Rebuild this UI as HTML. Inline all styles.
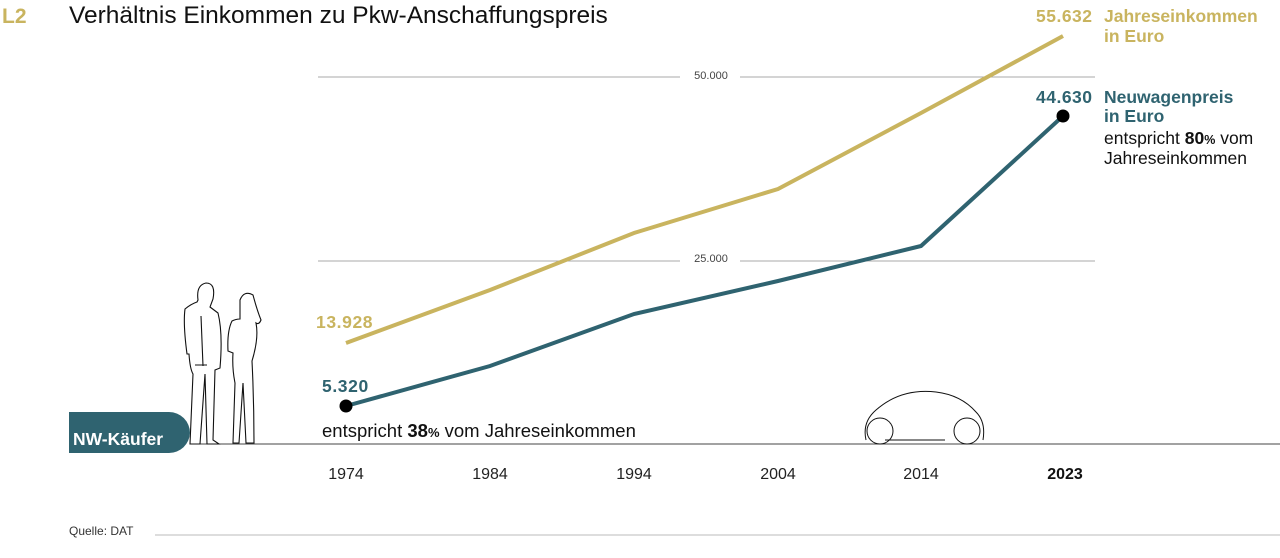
<!DOCTYPE html>
<html><head><meta charset="utf-8"><style>
body{margin:0;background:#fff;width:1280px;height:553px;overflow:hidden;font-family:"Liberation Sans",sans-serif}
svg text{font-family:"Liberation Sans",sans-serif}
</style></head><body>
<svg width="1280" height="553" viewBox="0 0 1280 553">
<text x="2" y="23" font-size="21" font-weight="bold" fill="#c9b45f">L2</text>
<text x="69" y="23" font-size="24.5" fill="#111">Verhältnis Einkommen zu Pkw-Anschaffungspreis</text>
<line x1="318" y1="77" x2="1095" y2="77" stroke="#aaa" stroke-width="1"/>
<line x1="318" y1="261" x2="1095" y2="261" stroke="#aaa" stroke-width="1"/>
<rect x="680" y="66" width="60" height="14" fill="#fff"/>
<rect x="680" y="250" width="60" height="14" fill="#fff"/>
<text x="711" y="79" font-size="11" fill="#444" text-anchor="middle">50.000</text>
<text x="711" y="262" font-size="11" fill="#444" text-anchor="middle">25.000</text>
<line x1="190" y1="444" x2="1280" y2="444" stroke="#444" stroke-width="1"/>
<polyline points="346,343 490,290 634,233 778,189 921,113 1063,36" fill="none" stroke="#c9b45f" stroke-width="4"/>
<polyline points="346,406 490,366 634,314 778,281 921,246 1063,116" fill="none" stroke="#2f6370" stroke-width="4"/>
<circle cx="346" cy="406" r="6.5" fill="#000"/>
<circle cx="1063" cy="116" r="6.5" fill="#000"/>
<text x="316" y="328" font-size="17.5" font-weight="bold" fill="#c9b45f" letter-spacing="0.6">13.928</text>
<text x="322" y="392" font-size="17.5" font-weight="bold" fill="#2f6370" letter-spacing="0.6">5.320</text>
<text x="322" y="437" font-size="18.5" fill="#111">entspricht <tspan font-weight="bold">38</tspan><tspan font-size="13" font-weight="bold">%</tspan> vom Jahreseinkommen</text>
<text x="1036" y="22" font-size="17.5" font-weight="bold" fill="#c9b45f" letter-spacing="0.5">55.632</text>
<text x="1104" y="22" font-size="17.5" font-weight="bold" fill="#c9b45f">Jahreseinkommen</text>
<text x="1104" y="42" font-size="17.5" font-weight="bold" fill="#c9b45f">in Euro</text>
<text x="1036" y="103" font-size="17.5" font-weight="bold" fill="#2f6370" letter-spacing="0.5">44.630</text>
<text x="1104" y="103" font-size="17.5" font-weight="bold" fill="#2f6370">Neuwagenpreis</text>
<text x="1104" y="122" font-size="17.5" font-weight="bold" fill="#2f6370">in Euro</text>
<text x="1104" y="144" font-size="17.5" fill="#111">entspricht <tspan font-weight="bold">80</tspan><tspan font-size="12.5" font-weight="bold">%</tspan> vom</text>
<text x="1104" y="164" font-size="17.5" fill="#111">Jahreseinkommen</text>
<g font-size="16" fill="#222" text-anchor="middle">
<text x="346" y="479">1974</text><text x="490" y="479">1984</text><text x="634" y="479">1994</text>
<text x="778" y="479">2004</text><text x="921" y="479">2014</text><text x="1065" y="479" font-weight="bold" fill="#111">2023</text></g>
<g fill="none" stroke="#111" stroke-width="1.1">
<path d="M198,300 q-2,-15 8,-17 q10,0 7,16 l-3,8 l8,6 q5,20 2,55 l-5,2 l-2,70 l6,4 h-12 l-2,-70 l-5,70 h-10 l3,-70 q-3,-5 -4,-20 l-2,0 q-4,-30 -2,-45 q6,-5 12,-7z"/>
<path d="M201,316 l2,50 M195,365 l12,0"/>
<path d="M240,300 q4,-10 13,-5 q4,15 8,25 q-2,5 -5,3 q3,15 -4,38 q2,40 2,82 h-8 l-3,-60 l-4,60 h-6 l2,-60 q-3,-15 -2,-30 l-5,-2 q-1,-20 4,-30 q4,-2 8,-2z"/>
</g>
<g fill="none" stroke="#111" stroke-width="1">
<path d="M866,440 q-4,-18 10,-30 q25,-22 60,-18 q25,3 40,20 q10,10 7,28"/>
<path d="M885,440 h60"/>
<circle cx="880" cy="431" r="13"/><circle cx="967" cy="431" r="13"/>
</g>
<path d="M69,412 h100 a21,21 0 0 1 21,21 v0 a21,21 0 0 1 -21,20 h-100z" fill="#2f6370"/>
<text x="73" y="445" font-size="17.5" font-weight="bold" fill="#fff">NW-Käufer</text>
<text x="69" y="535" font-size="12" fill="#333">Quelle: DAT</text>
<line x1="155" y1="535" x2="1280" y2="535" stroke="#bbb" stroke-width="1"/>
</svg>
</body></html>
